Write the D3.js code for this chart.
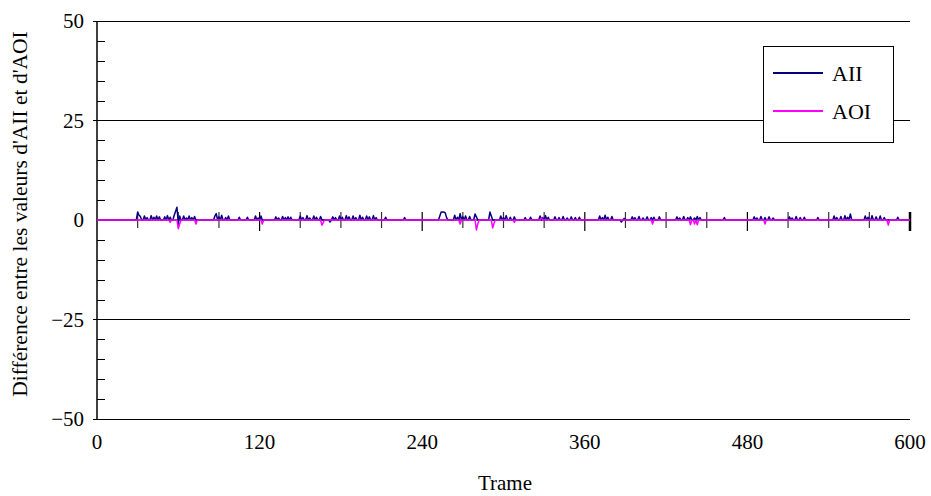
<!DOCTYPE html>
<html>
<head>
<meta charset="utf-8">
<script src="https://cdn.jsdelivr.net/npm/d3@7/dist/d3.min.js"></script>
<style>
  html, body { margin: 0; padding: 0; background: #fff; }
  svg { display: block; }
  text { font-family: "Liberation Serif", "Times New Roman", serif; fill: #000; }
</style>
</head>
<body>
<svg id="chart" width="931" height="496"></svg>
<script>
// Frame range and axis ticks
const frameCount = 600;
const xTickLabels = [0, 120, 240, 360, 480, 600];
const yTickLabels = [50, 25, 0, -25, -50];

// Non-zero differences per frame (all other frames are 0)
const aiiFrames = [30, 31, 32, 35, 37, 40, 42, 44, 46, 50, 52, 54, 57, 58, 59, 60, 61, 64, 66, 68, 70, 72,
  87, 88, 90, 92, 95, 97, 105, 111, 117, 119, 121, 132, 134, 137, 139, 141, 143,
  150, 152, 155, 157, 160, 162, 165, 172, 174, 176, 179, 181, 184, 186, 189, 191, 194, 196, 199, 201, 204, 206,
  213, 227, 253, 254, 255, 256, 257, 258, 264, 266, 268, 270, 272, 275, 279, 280, 290, 291, 298, 300, 302, 305, 308,
  316, 320, 327, 329, 331, 333, 338, 341, 344, 347, 350, 353, 356,
  371, 373, 375, 377, 380, 387, 389, 395, 397, 400, 403, 406, 409, 411, 415,
  428, 430, 433, 436, 438, 441, 443, 445, 463, 485, 487, 490, 493, 496, 499,
  511, 513, 516, 519, 522, 532, 544, 546, 549, 552, 554, 556, 567, 569, 572, 575, 578, 581, 591];
const aiiValues = [2.0, 1.2, 0.9, 1.0, 0.6, 1.1, 0.7, 1.0, 0.8, 0.8, 1.1, 0.7, 1.2, 2.2, 3.2, -0.8, 1.0, 1.0, 0.5, 1.0, 0.6, 0.9,
  1.0, 1.6, 0.8, 1.2, 0.6, 1.0, 0.7, 0.7, 1.0, 0.5, 1.0, 0.8, 0.5, 0.9, 0.6, 0.8, 0.7,
  1.0, 0.6, 1.1, 0.5, 1.0, 0.7, 0.9, -0.5, 0.8, 0.6, 1.0, 0.7, 1.1, 0.8, 1.0, 0.6, 1.2, 0.7, 1.0, 0.8, 1.1, 0.6,
  0.7, 0.6, 1.0, 2.0, 2.0, 2.0, 1.8, 0.6, 1.2, 0.7, 1.6, 0.8, 1.0, 0.9, 1.5, 0.8, 2.0, 1.0, 1.0, 0.6, 1.1, 0.7, 0.8,
  0.6, 0.7, 1.0, 0.6, 1.1, 0.7, 0.8, 0.6, 0.9, 0.5, 0.8, 0.6, 0.7,
  1.0, 0.6, 1.2, 0.7, 0.9, -0.5, 0.4, 0.8, 0.6, 0.9, 0.5, 0.8, 0.6, 0.7, 0.8,
  0.8, 0.5, 0.9, 0.6, 0.8, 0.5, 0.9, 0.6, 0.6, 0.8, 0.5, 0.9, 0.6, 0.8, 0.5,
  0.8, 0.5, 0.9, 0.6, 0.7, 0.6, 1.0, 0.6, 0.9, 1.1, 0.7, 1.5, 1.0, 0.7, 1.1, 0.8, 1.0, 0.6, 0.7];
const aoiFrames = [54, 60, 61, 73, 122, 166, 167, 268, 280, 281, 292, 293, 308, 328, 410, 438, 441, 443, 493, 584];
const aoiValues = [-0.6, -2.2, -1.0, -1.0, -1.0, -1.3, -0.6, -1.0, -2.5, -1.0, -2.0, -0.8, -0.6, 0.6, -1.0, -1.2, -1.0, -1.2, -1.0, -1.3];

// Expand the sparse lists into one value per frame
function expand(frames, values) {
  const out = d3.range(frameCount + 1).map(f => ({ frame: f, value: 0 }));
  frames.forEach((f, i) => { out[f].value = values[i]; });
  return out;
}
const series = [
  { name: "AII", color: "#000080", data: expand(aiiFrames, aiiValues) },
  { name: "AOI", color: "#ff00ff", data: expand(aoiFrames, aoiValues) }
];

const svg = d3.select("#chart");
const x = d3.scaleLinear().domain([0, frameCount]).range([97, 910]);
const y = d3.scaleLinear().domain([-50, 50]).range([419, 21]);

// Horizontal gridlines at the major y ticks (except the zero axis)
svg.append("g").selectAll("line")
  .data(yTickLabels.filter(v => v !== 0))
  .join("line")
  .attr("x1", x(0) - 4).attr("x2", x(frameCount))
  .attr("y1", d => y(d)).attr("y2", d => y(d))
  .attr("stroke", "#000").attr("stroke-width", 1)
  .attr("shape-rendering", "crispEdges");

// Left axis with inner minor ticks every 5
const yAxis = d3.axisRight(y)
  .tickValues(d3.range(-50, 51, 5).filter(v => v % 25 !== 0))
  .tickSize(8).tickFormat("");
svg.append("g").attr("transform", `translate(${x(0)},0)`).call(yAxis)
  .call(g => g.select(".domain").remove())
  .call(g => g.selectAll("line").attr("stroke", "#000").attr("shape-rendering", "crispEdges"));
svg.append("line")
  .attr("x1", x(0)).attr("x2", x(0)).attr("y1", y(50)).attr("y2", y(-50))
  .attr("stroke", "#000").attr("stroke-width", 1.5);

// Y tick labels
svg.append("g").selectAll("text")
  .data(yTickLabels)
  .join("text")
  .attr("x", 84).attr("y", d => y(d))
  .attr("dy", "0.35em")
  .attr("text-anchor", "end")
  .attr("font-size", 21)
  .text(d => d < 0 ? "\u2212" + Math.abs(d) : d);

// X axis along zero with crossing ticks every 30 frames
const xAxisG = svg.append("g");
xAxisG.selectAll("line.tick")
  .data(d3.range(30, frameCount + 1, 30))
  .join("line")
  .attr("class", "tick")
  .attr("x1", d => x(d)).attr("x2", d => x(d))
  .attr("y1", y(0) - 8)
  .attr("y2", d => y(0) + (d % 120 === 0 ? 11 : 8))
  .attr("stroke", d => d % 120 === 0 ? "#000" : "#333")
  .attr("stroke-width", d => d === frameCount ? 2.5 : 1.2);
xAxisG.append("line")
  .attr("x1", x(0)).attr("x2", x(frameCount)).attr("y1", y(0)).attr("y2", y(0))
  .attr("stroke", "#000");

// X tick labels along the bottom
svg.append("g").selectAll("text")
  .data(xTickLabels)
  .join("text")
  .attr("x", d => x(d)).attr("y", 449)
  .attr("text-anchor", "middle")
  .attr("font-size", 21)
  .text(d => d);

// Data lines
const line = d3.line().x(d => x(d.frame)).y(d => y(d.value));
svg.append("g").selectAll("path")
  .data(series)
  .join("path")
  .attr("fill", "none")
  .attr("stroke", d => d.color)
  .attr("stroke-width", 1.5)
  .attr("stroke-linejoin", "round")
  .attr("d", d => line(d.data));

// Axis titles
svg.append("text")
  .attr("x", 505).attr("y", 490)
  .attr("text-anchor", "middle")
  .attr("font-size", 21)
  .text("Trame");
svg.append("text")
  .attr("transform", `translate(27,214) rotate(-90)`)
  .attr("text-anchor", "middle")
  .attr("font-size", 21.5)
  .text("Différence entre les valeurs d'AII et d'AOI");

// Legend
const legend = svg.append("g");
legend.append("rect")
  .attr("x", 763.5).attr("y", 46.5).attr("width", 130).attr("height", 96)
  .attr("fill", "#fff").attr("stroke", "#000").attr("stroke-width", 1);
series.forEach((s, i) => {
  const ly = 73 + i * 38;
  legend.append("line")
    .attr("x1", 773).attr("x2", 823).attr("y1", ly).attr("y2", ly)
    .attr("stroke", s.color).attr("stroke-width", 2);
  legend.append("text")
    .attr("x", 832).attr("y", ly).attr("dy", "0.35em")
    .attr("font-size", 22)
    .text(s.name);
});
</script>
</body>
</html>
